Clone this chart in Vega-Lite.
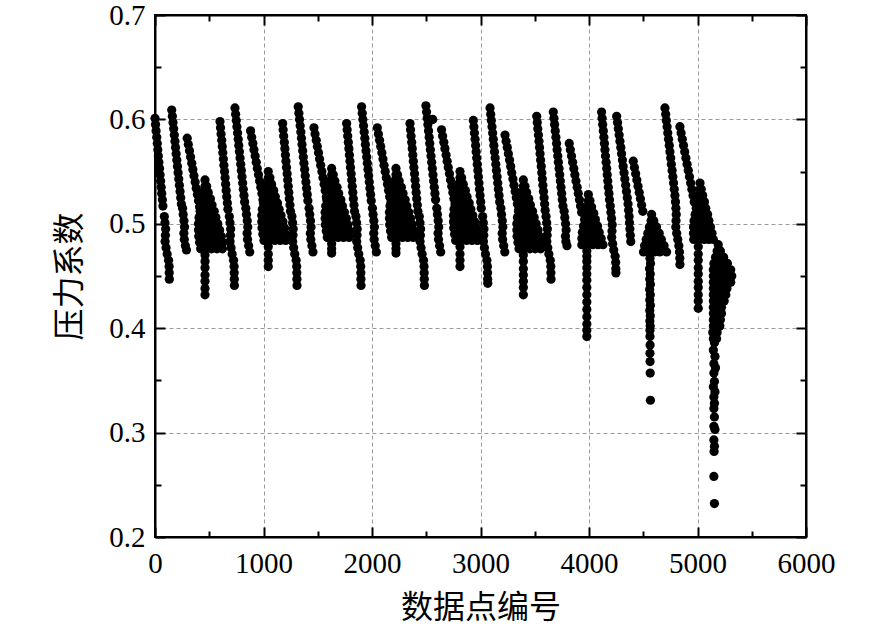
{
  "$schema": "https://vega.github.io/schema/vega-lite/v6.json",
  "width": 651,
  "height": 522,
  "autosize": "none",
  "padding": {"left": 155, "top": 15, "right": 80, "bottom": 97},
  "layer": [
    {
      "data": {
        "values": [
          {"n":0,"v":0.601},{"n":5,"v":0.595},{"n":10,"v":0.589},{"n":16,"v":0.583},{"n":21,"v":0.577},{"n":26,"v":0.571},{"n":31,"v":0.565},{"n":36,"v":0.559},{"n":42,"v":0.553},{"n":47,"v":0.547},{"n":52,"v":0.541},{"n":57,"v":0.535},{"n":62,"v":0.529},{"n":68,"v":0.523},{"n":73,"v":0.517},
          {"n":86,"v":0.507},{"n":92,"v":0.501},{"n":98,"v":0.495},{"n":96,"v":0.489},{"n":93,"v":0.483},{"n":102,"v":0.477},{"n":112,"v":0.471},{"n":125,"v":0.465},{"n":130,"v":0.459},{"n":131,"v":0.453},{"n":132,"v":0.447},
          {"n":154,"v":0.609},{"n":160,"v":0.603},{"n":166,"v":0.597},{"n":172,"v":0.591},{"n":178,"v":0.585},{"n":184,"v":0.579},{"n":189,"v":0.573},{"n":195,"v":0.567},{"n":201,"v":0.561},{"n":207,"v":0.555},{"n":213,"v":0.549},{"n":219,"v":0.543},{"n":225,"v":0.537},{"n":231,"v":0.531},{"n":237,"v":0.525},{"n":243,"v":0.519},
          {"n":254,"v":0.515},{"n":260,"v":0.509},{"n":267,"v":0.503},{"n":272,"v":0.497},{"n":266,"v":0.491},{"n":270,"v":0.485},{"n":280,"v":0.479},{"n":290,"v":0.475},
          {"n":297,"v":0.582},{"n":307,"v":0.576},{"n":318,"v":0.570},{"n":328,"v":0.564},{"n":339,"v":0.558},{"n":349,"v":0.552},{"n":359,"v":0.546},{"n":370,"v":0.540},{"n":380,"v":0.534},{"n":391,"v":0.528},{"n":401,"v":0.522},{"n":411,"v":0.516},{"n":422,"v":0.510},
          {"n":461,"v":0.542},{"n":461,"v":0.536},{"n":476,"v":0.536},{"n":446,"v":0.530},{"n":491,"v":0.530},{"n":436,"v":0.524},{"n":481,"v":0.524},{"n":511,"v":0.524},{"n":426,"v":0.518},{"n":476,"v":0.518},{"n":526,"v":0.518},
          {"n":416,"v":0.512},{"n":466,"v":0.512},{"n":516,"v":0.512},{"n":546,"v":0.512},{"n":406,"v":0.506},{"n":461,"v":0.506},{"n":511,"v":0.506},{"n":561,"v":0.506},
          {"n":401,"v":0.500},{"n":451,"v":0.500},{"n":501,"v":0.500},{"n":551,"v":0.500},{"n":579,"v":0.500},{"n":401,"v":0.494},{"n":451,"v":0.494},{"n":501,"v":0.494},{"n":551,"v":0.494},{"n":596,"v":0.494},
          {"n":403,"v":0.488},{"n":456,"v":0.488},{"n":511,"v":0.488},{"n":561,"v":0.488},{"n":611,"v":0.488},{"n":411,"v":0.482},{"n":466,"v":0.482},{"n":521,"v":0.482},{"n":576,"v":0.482},{"n":626,"v":0.482},
          {"n":421,"v":0.476},{"n":471,"v":0.476},{"n":521,"v":0.476},{"n":571,"v":0.476},{"n":621,"v":0.476},
          {"n":461,"v":0.470},{"n":461,"v":0.464},{"n":461,"v":0.458},{"n":461,"v":0.451},{"n":461,"v":0.445},{"n":461,"v":0.438},{"n":461,"v":0.432},

          {"n":599,"v":0.598},{"n":604,"v":0.592},{"n":609,"v":0.586},{"n":615,"v":0.580},{"n":620,"v":0.574},{"n":625,"v":0.568},{"n":630,"v":0.562},{"n":635,"v":0.556},{"n":641,"v":0.550},{"n":646,"v":0.544},{"n":651,"v":0.538},{"n":656,"v":0.532},{"n":661,"v":0.526},{"n":667,"v":0.520},{"n":672,"v":0.514},
          {"n":685,"v":0.507},{"n":691,"v":0.501},{"n":697,"v":0.495},{"n":695,"v":0.489},{"n":692,"v":0.483},{"n":701,"v":0.477},{"n":711,"v":0.471},{"n":724,"v":0.465},{"n":729,"v":0.459},{"n":730,"v":0.453},{"n":731,"v":0.447},{"n":732,"v":0.441},
          {"n":737,"v":0.611},{"n":743,"v":0.605},{"n":749,"v":0.599},{"n":755,"v":0.593},{"n":761,"v":0.587},{"n":767,"v":0.581},{"n":772,"v":0.575},{"n":778,"v":0.569},{"n":784,"v":0.563},{"n":790,"v":0.557},{"n":796,"v":0.551},{"n":802,"v":0.545},{"n":808,"v":0.539},{"n":814,"v":0.533},{"n":820,"v":0.527},{"n":826,"v":0.521},
          {"n":837,"v":0.515},{"n":843,"v":0.509},{"n":850,"v":0.503},{"n":855,"v":0.497},{"n":849,"v":0.491},{"n":853,"v":0.485},{"n":863,"v":0.479},{"n":873,"v":0.473},
          {"n":881,"v":0.589},{"n":891,"v":0.583},{"n":902,"v":0.577},{"n":912,"v":0.571},{"n":923,"v":0.565},{"n":933,"v":0.559},{"n":943,"v":0.553},{"n":954,"v":0.547},{"n":964,"v":0.541},{"n":975,"v":0.535},{"n":985,"v":0.529},{"n":995,"v":0.523},{"n":1006,"v":0.517},{"n":1016,"v":0.511},
          {"n":1044,"v":0.550},{"n":1044,"v":0.544},{"n":1059,"v":0.544},{"n":1029,"v":0.538},{"n":1074,"v":0.538},{"n":1019,"v":0.532},{"n":1064,"v":0.532},{"n":1094,"v":0.532},{"n":1009,"v":0.526},{"n":1059,"v":0.526},{"n":1109,"v":0.526},
          {"n":999,"v":0.520},{"n":1049,"v":0.520},{"n":1099,"v":0.520},{"n":1129,"v":0.520},{"n":989,"v":0.514},{"n":1044,"v":0.514},{"n":1094,"v":0.514},{"n":1144,"v":0.514},
          {"n":984,"v":0.508},{"n":1034,"v":0.508},{"n":1084,"v":0.508},{"n":1134,"v":0.508},{"n":1162,"v":0.508},{"n":984,"v":0.502},{"n":1034,"v":0.502},{"n":1084,"v":0.502},{"n":1134,"v":0.502},{"n":1179,"v":0.502},
          {"n":986,"v":0.496},{"n":1039,"v":0.496},{"n":1094,"v":0.496},{"n":1144,"v":0.496},{"n":1194,"v":0.496},{"n":994,"v":0.490},{"n":1049,"v":0.490},{"n":1104,"v":0.490},{"n":1159,"v":0.490},{"n":1209,"v":0.490},
          {"n":1004,"v":0.484},{"n":1054,"v":0.484},{"n":1104,"v":0.484},{"n":1154,"v":0.484},{"n":1204,"v":0.484},
          {"n":1044,"v":0.478},{"n":1044,"v":0.471},{"n":1044,"v":0.465},{"n":1044,"v":0.459},

          {"n":1176,"v":0.596},{"n":1181,"v":0.590},{"n":1186,"v":0.584},{"n":1192,"v":0.578},{"n":1197,"v":0.572},{"n":1202,"v":0.566},{"n":1207,"v":0.560},{"n":1212,"v":0.554},{"n":1218,"v":0.548},{"n":1223,"v":0.542},{"n":1228,"v":0.536},{"n":1233,"v":0.530},{"n":1238,"v":0.524},{"n":1244,"v":0.518},{"n":1249,"v":0.512},
          {"n":1262,"v":0.507},{"n":1268,"v":0.501},{"n":1274,"v":0.495},{"n":1272,"v":0.489},{"n":1269,"v":0.483},{"n":1278,"v":0.477},{"n":1288,"v":0.471},{"n":1301,"v":0.465},{"n":1306,"v":0.459},{"n":1307,"v":0.453},{"n":1308,"v":0.447},{"n":1309,"v":0.441},
          {"n":1320,"v":0.612},{"n":1326,"v":0.606},{"n":1332,"v":0.600},{"n":1338,"v":0.594},{"n":1344,"v":0.588},{"n":1350,"v":0.582},{"n":1355,"v":0.576},{"n":1361,"v":0.570},{"n":1367,"v":0.564},{"n":1373,"v":0.558},{"n":1379,"v":0.552},{"n":1385,"v":0.546},{"n":1391,"v":0.540},{"n":1397,"v":0.534},{"n":1403,"v":0.528},{"n":1409,"v":0.522},
          {"n":1420,"v":0.515},{"n":1426,"v":0.509},{"n":1433,"v":0.503},{"n":1438,"v":0.497},{"n":1432,"v":0.491},{"n":1436,"v":0.485},{"n":1446,"v":0.479},{"n":1456,"v":0.473},
          {"n":1465,"v":0.592},{"n":1475,"v":0.586},{"n":1486,"v":0.580},{"n":1496,"v":0.574},{"n":1507,"v":0.568},{"n":1517,"v":0.562},{"n":1527,"v":0.556},{"n":1538,"v":0.550},{"n":1548,"v":0.544},{"n":1559,"v":0.538},{"n":1569,"v":0.532},{"n":1579,"v":0.526},{"n":1590,"v":0.520},{"n":1600,"v":0.514},
          {"n":1628,"v":0.553},{"n":1628,"v":0.547},{"n":1643,"v":0.547},{"n":1613,"v":0.541},{"n":1658,"v":0.541},{"n":1603,"v":0.535},{"n":1648,"v":0.535},{"n":1678,"v":0.535},{"n":1593,"v":0.529},{"n":1643,"v":0.529},{"n":1693,"v":0.529},
          {"n":1583,"v":0.523},{"n":1633,"v":0.523},{"n":1683,"v":0.523},{"n":1713,"v":0.523},{"n":1573,"v":0.517},{"n":1628,"v":0.517},{"n":1678,"v":0.517},{"n":1728,"v":0.517},
          {"n":1568,"v":0.511},{"n":1618,"v":0.511},{"n":1668,"v":0.511},{"n":1718,"v":0.511},{"n":1746,"v":0.511},{"n":1568,"v":0.505},{"n":1618,"v":0.505},{"n":1668,"v":0.505},{"n":1718,"v":0.505},{"n":1763,"v":0.505},
          {"n":1570,"v":0.499},{"n":1623,"v":0.499},{"n":1678,"v":0.499},{"n":1728,"v":0.499},{"n":1778,"v":0.499},{"n":1578,"v":0.493},{"n":1633,"v":0.493},{"n":1688,"v":0.493},{"n":1743,"v":0.493},{"n":1793,"v":0.493},
          {"n":1588,"v":0.487},{"n":1638,"v":0.487},{"n":1688,"v":0.487},{"n":1738,"v":0.487},{"n":1788,"v":0.487},
          {"n":1628,"v":0.481},{"n":1628,"v":0.476},{"n":1628,"v":0.472},

          {"n":1766,"v":0.596},{"n":1771,"v":0.590},{"n":1776,"v":0.584},{"n":1782,"v":0.578},{"n":1787,"v":0.572},{"n":1792,"v":0.566},{"n":1797,"v":0.560},{"n":1802,"v":0.554},{"n":1808,"v":0.548},{"n":1813,"v":0.542},{"n":1818,"v":0.536},{"n":1823,"v":0.530},{"n":1828,"v":0.524},{"n":1834,"v":0.518},{"n":1839,"v":0.512},
          {"n":1852,"v":0.507},{"n":1858,"v":0.501},{"n":1864,"v":0.495},{"n":1862,"v":0.489},{"n":1859,"v":0.483},{"n":1868,"v":0.477},{"n":1878,"v":0.471},{"n":1891,"v":0.465},{"n":1896,"v":0.459},{"n":1897,"v":0.453},{"n":1898,"v":0.447},{"n":1899,"v":0.441},
          {"n":1904,"v":0.612},{"n":1910,"v":0.606},{"n":1916,"v":0.600},{"n":1922,"v":0.594},{"n":1928,"v":0.588},{"n":1934,"v":0.582},{"n":1939,"v":0.576},{"n":1945,"v":0.570},{"n":1951,"v":0.564},{"n":1957,"v":0.558},{"n":1963,"v":0.552},{"n":1969,"v":0.546},{"n":1975,"v":0.540},{"n":1981,"v":0.534},{"n":1987,"v":0.528},{"n":1993,"v":0.522},
          {"n":2004,"v":0.515},{"n":2010,"v":0.509},{"n":2017,"v":0.503},{"n":2022,"v":0.497},{"n":2016,"v":0.491},{"n":2020,"v":0.485},{"n":2030,"v":0.479},{"n":2040,"v":0.473},
          {"n":2049,"v":0.592},{"n":2059,"v":0.586},{"n":2070,"v":0.580},{"n":2080,"v":0.574},{"n":2091,"v":0.568},{"n":2101,"v":0.562},{"n":2111,"v":0.556},{"n":2122,"v":0.550},{"n":2132,"v":0.544},{"n":2143,"v":0.538},{"n":2153,"v":0.532},{"n":2163,"v":0.526},{"n":2174,"v":0.520},{"n":2184,"v":0.514},
          {"n":2221,"v":0.553},{"n":2221,"v":0.547},{"n":2236,"v":0.547},{"n":2206,"v":0.541},{"n":2251,"v":0.541},{"n":2196,"v":0.535},{"n":2241,"v":0.535},{"n":2271,"v":0.535},{"n":2186,"v":0.529},{"n":2236,"v":0.529},{"n":2286,"v":0.529},
          {"n":2176,"v":0.523},{"n":2226,"v":0.523},{"n":2276,"v":0.523},{"n":2306,"v":0.523},{"n":2166,"v":0.517},{"n":2221,"v":0.517},{"n":2271,"v":0.517},{"n":2321,"v":0.517},
          {"n":2161,"v":0.511},{"n":2211,"v":0.511},{"n":2261,"v":0.511},{"n":2311,"v":0.511},{"n":2339,"v":0.511},{"n":2161,"v":0.505},{"n":2211,"v":0.505},{"n":2261,"v":0.505},{"n":2311,"v":0.505},{"n":2356,"v":0.505},
          {"n":2163,"v":0.499},{"n":2216,"v":0.499},{"n":2271,"v":0.499},{"n":2321,"v":0.499},{"n":2371,"v":0.499},{"n":2171,"v":0.493},{"n":2226,"v":0.493},{"n":2281,"v":0.493},{"n":2336,"v":0.493},{"n":2386,"v":0.493},
          {"n":2181,"v":0.487},{"n":2231,"v":0.487},{"n":2281,"v":0.487},{"n":2331,"v":0.487},{"n":2381,"v":0.487},
          {"n":2221,"v":0.481},{"n":2221,"v":0.476},{"n":2221,"v":0.472},

          {"n":2350,"v":0.596},{"n":2355,"v":0.590},{"n":2360,"v":0.584},{"n":2366,"v":0.578},{"n":2371,"v":0.572},{"n":2376,"v":0.566},{"n":2381,"v":0.560},{"n":2386,"v":0.554},{"n":2392,"v":0.548},{"n":2397,"v":0.542},{"n":2402,"v":0.536},{"n":2407,"v":0.530},{"n":2412,"v":0.524},{"n":2418,"v":0.518},{"n":2423,"v":0.512},
          {"n":2436,"v":0.507},{"n":2442,"v":0.501},{"n":2448,"v":0.495},{"n":2446,"v":0.489},{"n":2443,"v":0.483},{"n":2452,"v":0.477},{"n":2462,"v":0.471},{"n":2475,"v":0.465},{"n":2480,"v":0.459},{"n":2481,"v":0.453},{"n":2482,"v":0.447},{"n":2483,"v":0.441},
          {"n":2497,"v":0.613},{"n":2503,"v":0.607},{"n":2509,"v":0.601},{"n":2515,"v":0.595},{"n":2521,"v":0.589},{"n":2527,"v":0.583},{"n":2532,"v":0.577},{"n":2538,"v":0.571},{"n":2544,"v":0.565},{"n":2550,"v":0.559},{"n":2556,"v":0.553},{"n":2562,"v":0.547},{"n":2568,"v":0.541},{"n":2574,"v":0.535},{"n":2580,"v":0.529},{"n":2586,"v":0.523},
          {"n":2597,"v":0.515},{"n":2603,"v":0.509},{"n":2610,"v":0.503},{"n":2615,"v":0.497},{"n":2609,"v":0.491},{"n":2613,"v":0.485},{"n":2623,"v":0.479},{"n":2633,"v":0.473},
          {"n":2560,"v":0.600},
          {"n":2641,"v":0.590},{"n":2651,"v":0.584},{"n":2662,"v":0.578},{"n":2672,"v":0.572},{"n":2683,"v":0.566},{"n":2693,"v":0.560},{"n":2703,"v":0.554},{"n":2714,"v":0.548},{"n":2724,"v":0.542},{"n":2735,"v":0.536},{"n":2745,"v":0.530},{"n":2755,"v":0.524},{"n":2766,"v":0.518},{"n":2776,"v":0.512},
          {"n":2811,"v":0.550},{"n":2811,"v":0.544},{"n":2826,"v":0.544},{"n":2796,"v":0.538},{"n":2841,"v":0.538},{"n":2786,"v":0.532},{"n":2831,"v":0.532},{"n":2861,"v":0.532},{"n":2776,"v":0.526},{"n":2826,"v":0.526},{"n":2876,"v":0.526},
          {"n":2766,"v":0.520},{"n":2816,"v":0.520},{"n":2866,"v":0.520},{"n":2896,"v":0.520},{"n":2756,"v":0.514},{"n":2811,"v":0.514},{"n":2861,"v":0.514},{"n":2911,"v":0.514},
          {"n":2751,"v":0.508},{"n":2801,"v":0.508},{"n":2851,"v":0.508},{"n":2901,"v":0.508},{"n":2929,"v":0.508},{"n":2751,"v":0.502},{"n":2801,"v":0.502},{"n":2851,"v":0.502},{"n":2901,"v":0.502},{"n":2946,"v":0.502},
          {"n":2753,"v":0.496},{"n":2806,"v":0.496},{"n":2861,"v":0.496},{"n":2911,"v":0.496},{"n":2961,"v":0.496},{"n":2761,"v":0.490},{"n":2816,"v":0.490},{"n":2871,"v":0.490},{"n":2926,"v":0.490},{"n":2976,"v":0.490},
          {"n":2771,"v":0.484},{"n":2821,"v":0.484},{"n":2871,"v":0.484},{"n":2921,"v":0.484},{"n":2971,"v":0.484},
          {"n":2811,"v":0.478},{"n":2811,"v":0.471},{"n":2811,"v":0.465},{"n":2811,"v":0.459},

          {"n":2934,"v":0.599},{"n":2939,"v":0.593},{"n":2944,"v":0.587},{"n":2950,"v":0.581},{"n":2955,"v":0.575},{"n":2960,"v":0.569},{"n":2965,"v":0.563},{"n":2970,"v":0.557},{"n":2976,"v":0.551},{"n":2981,"v":0.545},{"n":2986,"v":0.539},{"n":2991,"v":0.533},{"n":2996,"v":0.527},{"n":3002,"v":0.521},{"n":3007,"v":0.515},
          {"n":3020,"v":0.507},{"n":3026,"v":0.501},{"n":3032,"v":0.495},{"n":3030,"v":0.489},{"n":3027,"v":0.483},{"n":3036,"v":0.477},{"n":3046,"v":0.471},{"n":3059,"v":0.465},{"n":3064,"v":0.459},{"n":3065,"v":0.453},{"n":3066,"v":0.447},{"n":3067,"v":0.443},
          {"n":3088,"v":0.611},{"n":3094,"v":0.605},{"n":3100,"v":0.599},{"n":3106,"v":0.593},{"n":3112,"v":0.587},{"n":3118,"v":0.581},{"n":3123,"v":0.575},{"n":3129,"v":0.569},{"n":3135,"v":0.563},{"n":3141,"v":0.557},{"n":3147,"v":0.551},{"n":3153,"v":0.545},{"n":3159,"v":0.539},{"n":3165,"v":0.533},{"n":3171,"v":0.527},{"n":3177,"v":0.521},
          {"n":3188,"v":0.515},{"n":3194,"v":0.509},{"n":3201,"v":0.503},{"n":3206,"v":0.497},{"n":3200,"v":0.491},{"n":3204,"v":0.485},{"n":3214,"v":0.479},{"n":3224,"v":0.473},
          {"n":3226,"v":0.585},{"n":3236,"v":0.579},{"n":3247,"v":0.573},{"n":3257,"v":0.567},{"n":3268,"v":0.561},{"n":3278,"v":0.555},{"n":3288,"v":0.549},{"n":3299,"v":0.543},{"n":3309,"v":0.537},{"n":3320,"v":0.531},{"n":3330,"v":0.525},{"n":3340,"v":0.519},{"n":3351,"v":0.513},{"n":3361,"v":0.507},
          {"n":3395,"v":0.542},{"n":3395,"v":0.536},{"n":3410,"v":0.536},{"n":3380,"v":0.530},{"n":3425,"v":0.530},{"n":3370,"v":0.524},{"n":3415,"v":0.524},{"n":3445,"v":0.524},{"n":3360,"v":0.518},{"n":3410,"v":0.518},{"n":3460,"v":0.518},
          {"n":3350,"v":0.512},{"n":3400,"v":0.512},{"n":3450,"v":0.512},{"n":3480,"v":0.512},{"n":3340,"v":0.506},{"n":3395,"v":0.506},{"n":3445,"v":0.506},{"n":3495,"v":0.506},
          {"n":3335,"v":0.500},{"n":3385,"v":0.500},{"n":3435,"v":0.500},{"n":3485,"v":0.500},{"n":3513,"v":0.500},{"n":3335,"v":0.494},{"n":3385,"v":0.494},{"n":3435,"v":0.494},{"n":3485,"v":0.494},{"n":3530,"v":0.494},
          {"n":3337,"v":0.488},{"n":3390,"v":0.488},{"n":3445,"v":0.488},{"n":3495,"v":0.488},{"n":3545,"v":0.488},{"n":3345,"v":0.482},{"n":3400,"v":0.482},{"n":3455,"v":0.482},{"n":3510,"v":0.482},{"n":3560,"v":0.482},
          {"n":3355,"v":0.476},{"n":3405,"v":0.476},{"n":3455,"v":0.476},{"n":3505,"v":0.476},{"n":3555,"v":0.476},
          {"n":3395,"v":0.470},{"n":3395,"v":0.464},{"n":3395,"v":0.457},{"n":3395,"v":0.451},{"n":3395,"v":0.445},{"n":3395,"v":0.439},{"n":3395,"v":0.432},

          {"n":3518,"v":0.603},{"n":3523,"v":0.597},{"n":3528,"v":0.591},{"n":3534,"v":0.585},{"n":3539,"v":0.579},{"n":3544,"v":0.573},{"n":3549,"v":0.567},{"n":3554,"v":0.561},{"n":3560,"v":0.555},{"n":3565,"v":0.549},{"n":3570,"v":0.543},{"n":3575,"v":0.537},{"n":3580,"v":0.531},{"n":3586,"v":0.525},{"n":3591,"v":0.519},{"n":3596,"v":0.513},
          {"n":3604,"v":0.507},{"n":3610,"v":0.501},{"n":3616,"v":0.495},{"n":3614,"v":0.489},{"n":3611,"v":0.483},{"n":3620,"v":0.477},{"n":3630,"v":0.471},{"n":3643,"v":0.465},{"n":3648,"v":0.459},{"n":3649,"v":0.453},{"n":3650,"v":0.447},
          {"n":3671,"v":0.607},{"n":3677,"v":0.601},{"n":3683,"v":0.595},{"n":3689,"v":0.589},{"n":3695,"v":0.583},{"n":3701,"v":0.577},{"n":3706,"v":0.571},{"n":3712,"v":0.565},{"n":3718,"v":0.559},{"n":3724,"v":0.553},{"n":3730,"v":0.547},{"n":3736,"v":0.541},{"n":3742,"v":0.535},{"n":3748,"v":0.529},{"n":3754,"v":0.523},{"n":3760,"v":0.517},
          {"n":3771,"v":0.512},{"n":3777,"v":0.506},{"n":3784,"v":0.500},{"n":3789,"v":0.494},{"n":3783,"v":0.488},{"n":3787,"v":0.483},{"n":3797,"v":0.479},
          {"n":3818,"v":0.577},{"n":3828,"v":0.571},{"n":3839,"v":0.565},{"n":3849,"v":0.559},{"n":3860,"v":0.553},{"n":3870,"v":0.547},{"n":3880,"v":0.541},{"n":3891,"v":0.535},{"n":3901,"v":0.529},{"n":3912,"v":0.523},{"n":3922,"v":0.517},{"n":3932,"v":0.511},
          {"n":3994,"v":0.528},{"n":3994,"v":0.522},{"n":4009,"v":0.522},{"n":3979,"v":0.516},{"n":4024,"v":0.516},{"n":3969,"v":0.510},{"n":4014,"v":0.510},{"n":4044,"v":0.510},{"n":3959,"v":0.504},{"n":4009,"v":0.504},{"n":4059,"v":0.504},
          {"n":3949,"v":0.498},{"n":3999,"v":0.498},{"n":4049,"v":0.498},{"n":4079,"v":0.498},{"n":3939,"v":0.492},{"n":3994,"v":0.492},{"n":4044,"v":0.492},{"n":4094,"v":0.492},
          {"n":3934,"v":0.486},{"n":3984,"v":0.486},{"n":4034,"v":0.486},{"n":4084,"v":0.486},{"n":4112,"v":0.486},{"n":3934,"v":0.480},{"n":3984,"v":0.480},{"n":4034,"v":0.480},{"n":4084,"v":0.480},{"n":4129,"v":0.480},
          {"n":3980,"v":0.474},{"n":3980,"v":0.469},{"n":3980,"v":0.464},{"n":3980,"v":0.458},{"n":3980,"v":0.452},{"n":3980,"v":0.446},{"n":3980,"v":0.439},{"n":3980,"v":0.432},{"n":3980,"v":0.425},{"n":3980,"v":0.418},{"n":3980,"v":0.411},{"n":3980,"v":0.404},{"n":3980,"v":0.398},{"n":3980,"v":0.392},

          {"n":4116,"v":0.607},{"n":4121,"v":0.601},{"n":4126,"v":0.595},{"n":4132,"v":0.589},{"n":4137,"v":0.583},{"n":4142,"v":0.577},{"n":4147,"v":0.571},{"n":4152,"v":0.565},{"n":4158,"v":0.559},{"n":4163,"v":0.553},{"n":4168,"v":0.547},{"n":4173,"v":0.541},{"n":4178,"v":0.535},{"n":4184,"v":0.529},{"n":4189,"v":0.523},
          {"n":4196,"v":0.517},{"n":4202,"v":0.511},{"n":4208,"v":0.505},{"n":4214,"v":0.499},{"n":4212,"v":0.493},{"n":4209,"v":0.487},{"n":4218,"v":0.481},{"n":4228,"v":0.475},{"n":4241,"v":0.469},{"n":4246,"v":0.463},{"n":4247,"v":0.457},{"n":4248,"v":0.453},
          {"n":4255,"v":0.603},{"n":4263,"v":0.597},{"n":4270,"v":0.591},{"n":4278,"v":0.585},{"n":4285,"v":0.579},{"n":4293,"v":0.573},{"n":4300,"v":0.567},{"n":4308,"v":0.561},{"n":4315,"v":0.555},{"n":4323,"v":0.549},{"n":4330,"v":0.543},{"n":4338,"v":0.537},{"n":4345,"v":0.531},{"n":4353,"v":0.525},{"n":4360,"v":0.519},
          {"n":4365,"v":0.513},{"n":4370,"v":0.507},{"n":4373,"v":0.501},{"n":4377,"v":0.495},{"n":4381,"v":0.489},{"n":4385,"v":0.483},
          {"n":4408,"v":0.560},{"n":4419,"v":0.554},{"n":4430,"v":0.548},{"n":4441,"v":0.542},{"n":4452,"v":0.536},{"n":4463,"v":0.530},{"n":4474,"v":0.524},{"n":4485,"v":0.518},{"n":4496,"v":0.512},
          {"n":4577,"v":0.509},{"n":4572,"v":0.503},{"n":4597,"v":0.503},{"n":4557,"v":0.497},{"n":4592,"v":0.497},{"n":4622,"v":0.497},{"n":4542,"v":0.491},{"n":4587,"v":0.491},{"n":4627,"v":0.491},{"n":4647,"v":0.491},
          {"n":4527,"v":0.485},{"n":4577,"v":0.485},{"n":4622,"v":0.485},{"n":4667,"v":0.485},{"n":4512,"v":0.479},{"n":4562,"v":0.479},{"n":4612,"v":0.479},{"n":4657,"v":0.479},{"n":4692,"v":0.479},
          {"n":4502,"v":0.473},{"n":4552,"v":0.473},{"n":4602,"v":0.473},{"n":4652,"v":0.473},{"n":4715,"v":0.473},
          {"n":4562,"v":0.467},{"n":4567,"v":0.462},{"n":4558,"v":0.457},{"n":4565,"v":0.452},{"n":4560,"v":0.447},{"n":4566,"v":0.442},{"n":4559,"v":0.437},{"n":4565,"v":0.432},{"n":4560,"v":0.427},{"n":4566,"v":0.422},{"n":4560,"v":0.417},{"n":4565,"v":0.412},{"n":4561,"v":0.407},{"n":4564,"v":0.402},{"n":4562,"v":0.398},
          {"n":4562,"v":0.392},{"n":4563,"v":0.384},{"n":4562,"v":0.376},{"n":4563,"v":0.368},{"n":4564,"v":0.357},{"n":4566,"v":0.331},

          {"n":4700,"v":0.611},{"n":4707,"v":0.605},{"n":4713,"v":0.599},{"n":4720,"v":0.593},{"n":4726,"v":0.587},{"n":4733,"v":0.581},{"n":4740,"v":0.575},{"n":4746,"v":0.569},{"n":4753,"v":0.563},{"n":4759,"v":0.557},{"n":4766,"v":0.551},{"n":4773,"v":0.545},{"n":4779,"v":0.539},{"n":4786,"v":0.533},{"n":4792,"v":0.527},
          {"n":4797,"v":0.521},{"n":4801,"v":0.515},{"n":4804,"v":0.509},{"n":4802,"v":0.503},{"n":4800,"v":0.497},{"n":4808,"v":0.491},{"n":4818,"v":0.485},{"n":4828,"v":0.479},{"n":4834,"v":0.473},{"n":4837,"v":0.467},{"n":4838,"v":0.461},
          {"n":4838,"v":0.593},{"n":4849,"v":0.587},{"n":4860,"v":0.581},{"n":4871,"v":0.575},{"n":4882,"v":0.569},{"n":4893,"v":0.563},{"n":4904,"v":0.557},{"n":4915,"v":0.551},{"n":4926,"v":0.545},{"n":4937,"v":0.539},{"n":4948,"v":0.533},{"n":4959,"v":0.527},{"n":4970,"v":0.521},
          {"n":5023,"v":0.539},{"n":5023,"v":0.533},{"n":5035,"v":0.533},{"n":5008,"v":0.527},{"n":5048,"v":0.527},{"n":4998,"v":0.521},{"n":5039,"v":0.521},{"n":5064,"v":0.521},{"n":4988,"v":0.515},{"n":5035,"v":0.515},{"n":5076,"v":0.515},
          {"n":4978,"v":0.509},{"n":5027,"v":0.509},{"n":5068,"v":0.509},{"n":5093,"v":0.509},{"n":4968,"v":0.503},{"n":5023,"v":0.503},{"n":5064,"v":0.503},{"n":5105,"v":0.503},
          {"n":4963,"v":0.497},{"n":5013,"v":0.497},{"n":5056,"v":0.497},{"n":5097,"v":0.497},{"n":5120,"v":0.497},{"n":4963,"v":0.491},{"n":5013,"v":0.491},{"n":5056,"v":0.491},{"n":5097,"v":0.491},{"n":5134,"v":0.491},
          {"n":4965,"v":0.485},{"n":5018,"v":0.485},{"n":5064,"v":0.485},{"n":5105,"v":0.485},{"n":5146,"v":0.485},
          {"n":5007,"v":0.478},{"n":5007,"v":0.471},{"n":5007,"v":0.465},{"n":5007,"v":0.458},{"n":5007,"v":0.452},{"n":5007,"v":0.445},{"n":5007,"v":0.439},{"n":5007,"v":0.432},{"n":5007,"v":0.426},{"n":5007,"v":0.419},

          {"n":5191,"v":0.480},{"n":5181,"v":0.474},{"n":5211,"v":0.474},{"n":5166,"v":0.468},{"n":5206,"v":0.468},{"n":5241,"v":0.468},{"n":5151,"v":0.462},{"n":5196,"v":0.462},{"n":5241,"v":0.462},{"n":5276,"v":0.462},
          {"n":5146,"v":0.456},{"n":5191,"v":0.456},{"n":5236,"v":0.456},{"n":5281,"v":0.456},{"n":5306,"v":0.456},{"n":5146,"v":0.450},{"n":5191,"v":0.450},{"n":5236,"v":0.450},{"n":5281,"v":0.450},{"n":5316,"v":0.450},
          {"n":5146,"v":0.444},{"n":5191,"v":0.444},{"n":5236,"v":0.444},{"n":5281,"v":0.444},{"n":5306,"v":0.444},{"n":5146,"v":0.438},{"n":5186,"v":0.438},{"n":5231,"v":0.438},{"n":5271,"v":0.438},
          {"n":5146,"v":0.432},{"n":5186,"v":0.432},{"n":5231,"v":0.432},{"n":5261,"v":0.432},{"n":5146,"v":0.426},{"n":5181,"v":0.426},{"n":5221,"v":0.426},{"n":5246,"v":0.426},
          {"n":5146,"v":0.420},{"n":5181,"v":0.420},{"n":5221,"v":0.420},{"n":5146,"v":0.414},{"n":5186,"v":0.414},{"n":5221,"v":0.414},{"n":5146,"v":0.408},{"n":5181,"v":0.408},{"n":5211,"v":0.408},
          {"n":5146,"v":0.402},{"n":5186,"v":0.402},{"n":5206,"v":0.402},{"n":5141,"v":0.396},{"n":5181,"v":0.396},{"n":5146,"v":0.390},{"n":5176,"v":0.390},
          {"n":5156,"v":0.386},{"n":5146,"v":0.379},{"n":5161,"v":0.373},{"n":5151,"v":0.366},{"n":5166,"v":0.362},{"n":5151,"v":0.357},{"n":5156,"v":0.349},{"n":5146,"v":0.344},{"n":5161,"v":0.339},{"n":5151,"v":0.334},
          {"n":5156,"v":0.328},{"n":5151,"v":0.323},{"n":5156,"v":0.315},{"n":5151,"v":0.306},{"n":5161,"v":0.303},{"n":5151,"v":0.293},{"n":5156,"v":0.287},{"n":5153,"v":0.282},{"n":5151,"v":0.258},{"n":5156,"v":0.232}
        ]
      },
      "mark": {"type": "point", "shape": "circle", "filled": true, "color": "black", "opacity": 1, "size": 85},
      "encoding": {
        "x": {
          "field": "n",
          "type": "quantitative",
          "title": "数据点编号",
          "scale": {"domain": [0, 6000], "nice": false, "zero": false},
          "axis": {
            "orient": "bottom",
            "values": [0, 500, 1000, 1500, 2000, 2500, 3000, 3500, 4000, 4500, 5000, 5500, 6000],
            "format": "d",
            "labelExpr": "datum.value % 1000 === 0 ? datum.label : ''",
            "labelFlush": false,
            "tickSize": {"condition": {"test": "datum.value % 1000 === 0", "value": -10}, "value": -6},
            "gridOpacity": {"condition": {"test": "datum.value % 1000 === 0", "value": 1}, "value": 0},
            "labelPadding": 22,
            "titlePadding": 14
          }
        },
        "y": {
          "field": "v",
          "type": "quantitative",
          "title": "压力系数",
          "scale": {"domain": [0.2, 0.7], "nice": false, "zero": false},
          "axis": {
            "orient": "left",
            "values": [0.2, 0.25, 0.3, 0.35, 0.4, 0.45, 0.5, 0.55, 0.6, 0.65, 0.7],
            "format": ".1f",
            "labelExpr": "abs(datum.value * 10 - round(datum.value * 10)) < 0.001 ? datum.label : ''",
            "labelFlush": false,
            "tickSize": {"condition": {"test": "abs(datum.value * 10 - round(datum.value * 10)) < 0.001", "value": -10}, "value": -6},
            "gridOpacity": {"condition": {"test": "abs(datum.value * 10 - round(datum.value * 10)) < 0.001", "value": 1}, "value": 0},
            "labelPadding": 20,
            "titlePadding": 22
          }
        }
      }
    },
    {
      "data": {"values": [{}]},
      "mark": {"type": "point", "opacity": 0},
      "encoding": {
        "x": {
          "datum": 0,
          "type": "quantitative",
          "scale": {"domain": [0, 6000], "nice": false, "zero": false},
          "axis": {
            "orient": "top",
            "values": [0, 500, 1000, 1500, 2000, 2500, 3000, 3500, 4000, 4500, 5000, 5500, 6000],
            "labels": false,
            "grid": false,
            "title": null,
            "tickSize": {"condition": {"test": "datum.value % 1000 === 0", "value": -10}, "value": -6}
          }
        },
        "y": {
          "datum": 0.2,
          "type": "quantitative",
          "scale": {"domain": [0.2, 0.7], "nice": false, "zero": false},
          "axis": {
            "orient": "right",
            "values": [0.2, 0.25, 0.3, 0.35, 0.4, 0.45, 0.5, 0.55, 0.6, 0.65, 0.7],
            "labels": false,
            "grid": false,
            "title": null,
            "tickSize": {"condition": {"test": "abs(datum.value * 10 - round(datum.value * 10)) < 0.001", "value": -10}, "value": -6}
          }
        }
      }
    }
  ],
  "resolve": {"axis": {"x": "independent", "y": "independent"}},
  "config": {
    "view": {"stroke": "black", "strokeWidth": 2},
    "axis": {
      "domainColor": "black",
      "domainWidth": 2,
      "tickColor": "black",
      "tickWidth": 2,
      "gridColor": "#9a9a9a",
      "gridDash": [4, 3],
      "gridWidth": 1,
      "labelFont": "Liberation Serif",
      "labelFontSize": 29,
      "labelColor": "black",
      "titleFont": "Noto Sans CJK SC",
      "titleFontSize": 32,
      "titleFontWeight": "normal",
      "titleColor": "black"
    }
  }
}
